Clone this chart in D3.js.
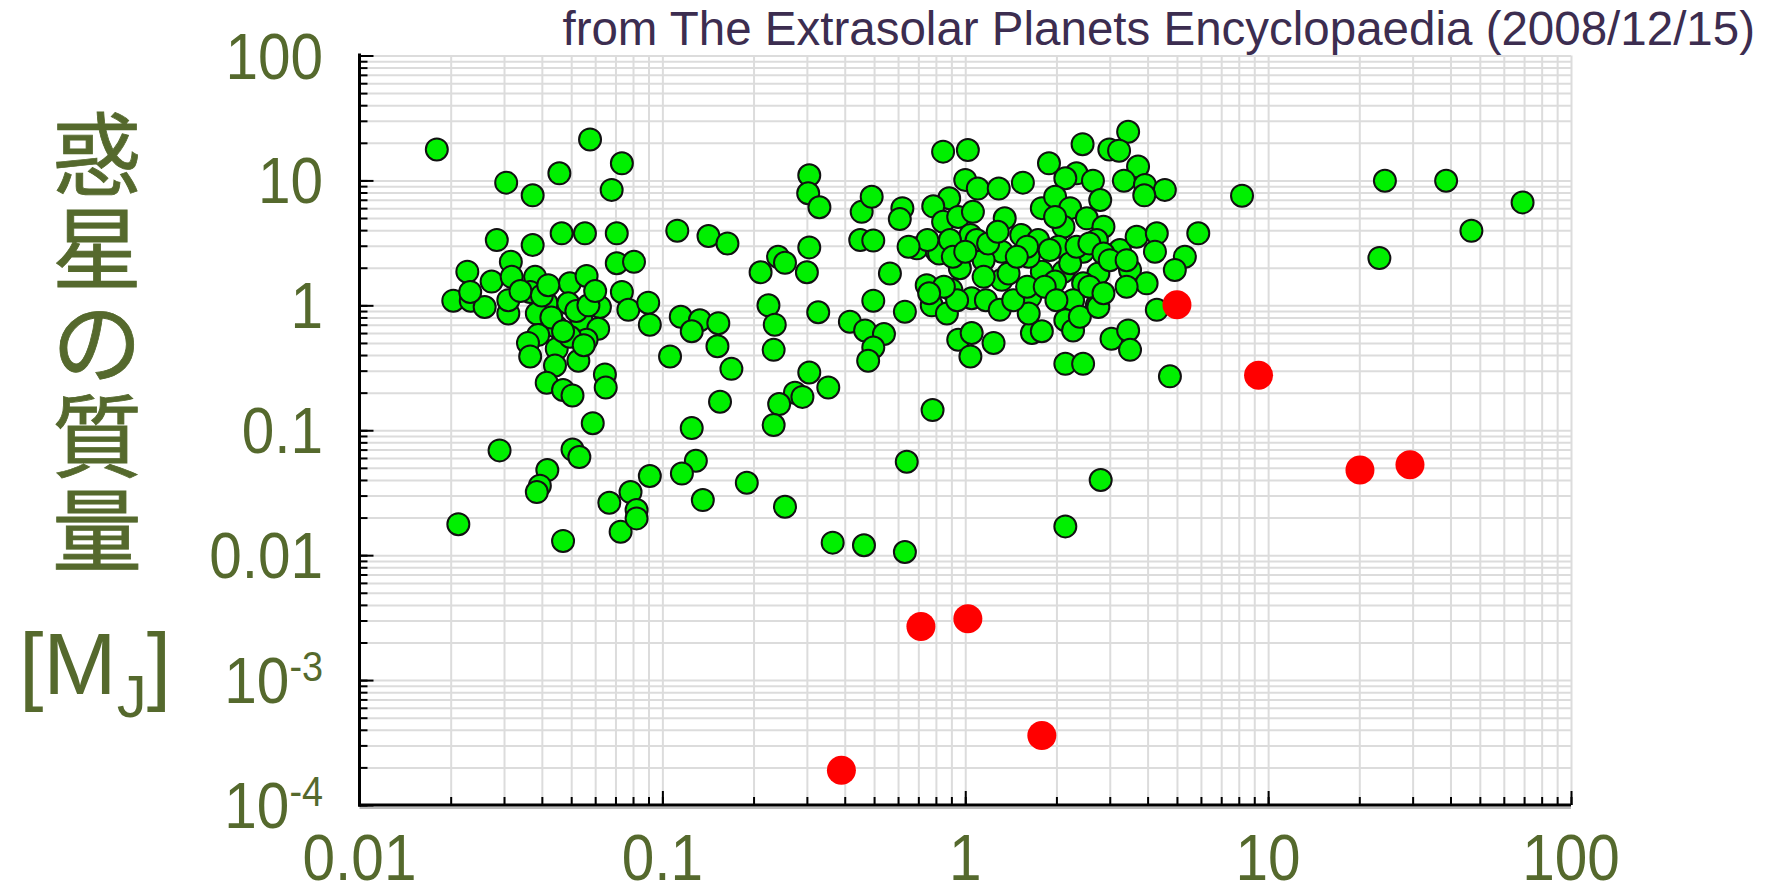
<!DOCTYPE html>
<html>
<head>
<meta charset="utf-8">
<script src="https://cdn.jsdelivr.net/npm/d3@7"></script>
<style>
  body { margin: 0; background: #fff; }
  svg { display: block; }
</style>
</head>
<body>
<div id="chart"></div>
<script>
// semi-major axis [AU] / planet mass [MJ]
var planetA = [
  0.018, 0.0577, 0.0735, 0.0457, 0.0305, 0.0373, 0.068,
  0.0284, 0.0373, 0.0465, 0.0555, 0.0707,
  0.0316, 0.0227, 0.0273, 0.0318, 0.038, 0.0495, 0.0562, 0.0707, 0.0806,
  0.0204, 0.0233, 0.0259, 0.0232, 0.031, 0.031, 0.0366, 0.0415, 0.0385, 0.0489,
  0.0541, 0.0622, 0.0614, 0.0448, 0.0389, 0.036, 0.0366, 0.0448, 0.0442, 0.0528, 0.0562, 0.0495,
  0.0735, 0.0772, 0.0898, 0.0909,
  0.0646, 0.065, 0.0415, 0.047, 0.0505, 0.0589,
  0.029, 0.0505, 0.0532, 0.0417, 0.0394, 0.0385,
  0.0212, 0.047, 0.0668, 0.0785, 0.0822, 0.0728, 0.0909, 0.0822,
  0.034, 0.043, 0.047, 0.055, 0.04, 0.052, 0.057, 0.042, 0.06,
  0.3055, 0.303, 0.33, 0.112, 0.142, 0.164, 0.211, 0.241, 0.254, 0.3055, 0.30,
  0.224, 0.235, 0.233, 0.327, 0.416, 0.467, 0.539, 0.497, 0.478,
  0.455, 0.491, 0.45, 0.497, 0.497,
  0.115, 0.133, 0.125, 0.153, 0.152, 0.106, 0.169, 0.155, 0.125,
  0.3055, 0.274, 0.243, 0.353, 0.233, 0.29,
  0.129, 0.116, 0.136, 0.19, 0.254, 0.641, 0.365, 0.463, 0.632,
  3.45, 2.44, 2.99, 3.22, 0.845, 1.02, 1.89, 3.72, 2.33, 2.14, 2.64, 3.34, 3.92, 4.56, 3.9,
  1.0, 1.10, 1.29, 1.55, 0.885, 0.784, 0.62, 0.608, 0.845, 0.948, 1.06, 1.35, 1.79, 1.98, 2.22, 2.52, 2.79, 2.86, 2.11, 1.98,
  0.692, 0.806, 1.04, 1.53, 1.74, 2.03, 2.45, 2.72, 3.24, 3.68, 4.29, 5.88, 5.31, 4.23, 4.92, 3.5, 3.97, 3.41, 2.75, 2.45,
  2.11, 1.79, 1.62, 1.32, 1.32, 1.15, 0.96, 0.82, 0.746, 0.90, 1.05, 1.64, 1.98, 2.27, 2.72,
  0.564, 0.632, 0.775, 0.87, 0.948, 1.05, 1.24, 1.04, 1.66, 1.79, 1.62, 2.14, 2.27, 2.39, 2.75, 3.04, 3.45, 3.5, 4.29, 2.14, 2.45, 4.74,
  1.09, 1.19, 1.39, 1.60, 1.9, 2.22, 2.33, 2.57, 2.86, 0.89, 0.94, 1.17, 1.30, 1.44, 1.6, 1.83, 2.0, 2.57, 2.86, 3.0,
  0.75, 0.65, 0.91, 1.0, 1.48, 1.28, 1.15, 0.85, 0.76, 3.41,
  0.78, 2.14, 2.8,
  8.2, 24.3, 23.3, 38.7, 46.9, 69.2
];
var planetM = [
  17.7, 21.3, 13.7, 11.4, 9.6, 7.6, 8.4,
  3.33, 3.04, 3.77, 3.77, 3.77,
  2.23, 1.86, 1.55, 1.69, 1.69, 1.5, 1.72, 2.17, 2.23,
  1.09, 1.09, 0.97, 1.28, 0.86, 1.1, 1.28, 1.04, 0.86, 1.04,
  0.76, 0.97, 0.65, 0.67, 0.58, 0.5, 0.39, 0.45, 0.33, 0.36, 0.53, 0.56,
  1.28, 0.92, 1.05, 0.7,
  0.28, 0.22, 0.24, 0.21, 0.19, 0.114,
  0.069, 0.07, 0.061, 0.048, 0.036, 0.032,
  0.0177, 0.013, 0.0263, 0.032, 0.023, 0.0154, 0.043, 0.0197,
  1.3, 0.8, 0.62, 0.48, 1.2, 0.9, 1.0, 1.45, 1.3,
  11.0, 7.9, 6.1, 3.96, 3.59, 3.13, 1.84, 2.45, 2.19, 2.91, 1.84,
  1.0, 0.70, 0.44, 0.88, 0.74, 0.63, 0.59, 0.46, 0.36,
  5.6, 7.4, 3.33, 3.3, 1.09,
  0.81, 0.76, 0.62, 0.72, 0.47, 0.39, 0.31, 0.169, 0.104,
  0.29, 0.20, 0.162, 0.22, 0.11, 0.185,
  0.057, 0.045, 0.0276, 0.038, 0.0244, 0.056, 0.0126, 0.012, 0.0106,
  24.5, 19.5, 17.7, 17.3, 17, 17.5, 13.7, 12.9, 11.4, 10.4, 9.95, 9.95, 9.2, 8.4, 7.6,
  10.1, 8.6, 8.6, 9.6, 7.2, 6.2, 6.0, 4.9, 4.67, 5.1, 5.6, 4.97, 6.0, 7.4, 6.0, 4.97, 6.97, 4.26, 4.26, 5.1,
  2.86, 2.69, 3.65, 3.65, 3.33, 2.95, 2.69, 3.33, 2.77, 3.54, 3.77, 3.77, 2.45, 2.69, 1.92, 1.92, 1.5, 1.41, 1.8, 1.5,
  1.86, 1.86, 2.45, 2.69, 1.6, 2.3, 1.98, 2.6, 1.45, 1.33, 1.14, 1.17, 1.55, 1.1, 1.0,
  1.8, 0.89, 1.0, 0.86, 0.53, 0.60, 0.50, 0.39, 0.6, 0.62, 0.86, 0.76, 0.63, 0.81, 0.97, 0.54, 0.63, 0.44, 0.92, 0.34, 0.34, 0.27,
  3.33, 3.13, 1.8, 2.95, 2.77, 2.17, 2.95, 3.13, 2.6, 3.33, 1.1, 1.1, 0.92, 1.1, 1.41, 1.41, 1.1, 1.41, 1.25, 2.3,
  3.33, 2.95, 2.45, 2.69, 2.45, 3.88, 1.69, 1.41, 1.25, 2.3,
  0.145, 0.017, 0.040,
  7.55, 9.93, 2.39, 9.93, 3.95, 6.67
];

// solar system planets (red)
var solarNames = ["Mercury", "Venus", "Earth", "Mars", "Jupiter", "Saturn", "Uranus", "Neptune"];
var solarA = [0.39, 0.714, 1.02, 1.79, 5.0, 9.3, 20.1, 29.4];
var solarM = [0.00019, 0.00268, 0.0031, 0.00036, 1.01, 0.275, 0.048, 0.053];

var xTickValues = [0.01, 0.1, 1, 10, 100];
var xTickLabels = ["0.01", "0.1", "1", "10", "100"];
var yTickValues = [1e-4, 1e-3, 0.01, 0.1, 1, 10, 100];
var yTickLabels = ["10^-4", "10^-3", "0.01", "0.1", "1", "10", "100"];
var yTitleChars = ["惑", "星", "の", "質", "量"];
var sourceText = "from The Extrasolar Planets Encyclopaedia (2008/12/15)";

var W = 1783, H = 885;
var plot = { left: 359.5, right: 1571, top: 55.5, bottom: 805 };
var olive = "#55692d";
var latin = "'Liberation Sans', Arial, sans-serif";

var svg = d3.select("#chart").append("svg")
  .attr("width", W)
  .attr("height", H);

var x = d3.scaleLog().domain([0.01, 100]).range([plot.left, plot.right]);
var y = d3.scaleLog().domain([1e-4, 100]).range([plot.bottom, plot.top]);

// 1..9 steps in every decade
function decadeSteps(lo, hi) {
  var out = [];
  for (var d = lo; d < hi * 0.99; d *= 10) {
    for (var k = 1; k < 10; k++) out.push(+(d * k).toPrecision(3));
  }
  out.push(hi);
  return out;
}
var xSteps = decadeSteps(0.01, 100),
  ySteps = decadeSteps(1e-4, 100);

// grid
svg.append("g")
  .attr("class", "grid")
  .attr("transform", "translate(0," + plot.bottom + ")")
  .call(d3.axisBottom(x).tickValues(xSteps).tickSize(-(plot.bottom - plot.top)).tickFormat(""));
svg.append("g")
  .attr("class", "grid")
  .attr("transform", "translate(" + plot.left + ",0)")
  .call(d3.axisLeft(y).tickValues(ySteps).tickSize(-(plot.right - plot.left)).tickFormat(""));
svg.selectAll(".grid .domain").remove();
svg.selectAll(".grid line").attr("stroke", "#dcdcdc").attr("stroke-width", 2);

// tick marks, pointing into the plot
function drawTicks(axis, tr, values, len) {
  var g = svg.append("g")
    .attr("class", "ticks")
    .attr("transform", tr)
    .call(axis.tickValues(values).tickSize(-len).tickSizeOuter(0).tickFormat(""));
  g.select(".domain").remove();
  g.selectAll("line").attr("stroke", "#000").attr("stroke-width", 2);
}
drawTicks(d3.axisLeft(y), "translate(" + plot.left + ",0)", ySteps, 8);
drawTicks(d3.axisLeft(y), "translate(" + plot.left + ",0)", yTickValues, 14);
drawTicks(d3.axisBottom(x), "translate(0," + plot.bottom + ")", xSteps, 8);
drawTicks(d3.axisBottom(x), "translate(0," + plot.bottom + ")", xTickValues, 14);

// axis lines
svg.append("line")
  .attr("x1", plot.left).attr("x2", plot.right)
  .attr("y1", plot.bottom + 3).attr("y2", plot.bottom + 3)
  .attr("stroke", "#bbb").attr("stroke-width", 2);
svg.append("line")
  .attr("x1", plot.left).attr("x2", plot.left)
  .attr("y1", plot.top - 2).attr("y2", plot.bottom + 1.5)
  .attr("stroke", "#000").attr("stroke-width", 3);
svg.append("line")
  .attr("x1", plot.left - 1.5).attr("x2", plot.right)
  .attr("y1", plot.bottom).attr("y2", plot.bottom)
  .attr("stroke", "#000").attr("stroke-width", 3);

// points
var planets = planetA.map(function(a, i) { return { a: a, m: planetM[i] }; });
var solar = solarA.map(function(a, i) { return { name: solarNames[i], a: a, m: solarM[i] }; });

svg.append("g").selectAll("circle")
  .data(planets)
  .join("circle")
  .attr("cx", function(d) { return x(d.a); })
  .attr("cy", function(d) { return y(d.m); })
  .attr("r", 11)
  .attr("fill", "#00f000")
  .attr("stroke", "#111")
  .attr("stroke-width", 2);

svg.append("g").selectAll("circle")
  .data(solar)
  .join("circle")
  .attr("cx", function(d) { return x(d.a); })
  .attr("cy", function(d) { return y(d.m); })
  .attr("r", 14.5)
  .attr("fill", "#ff0000");

// tick labels (slightly condensed, like the original)
var yLab = svg.append("g").selectAll("g")
  .data(yTickValues)
  .join("g")
  .attr("transform", function(d) { return "translate(323," + (y(d) + 23) + ") scale(0.9,1)"; })
  .append("text")
  .attr("text-anchor", "end")
  .attr("font-family", latin)
  .attr("font-size", 65)
  .attr("fill", olive);
yLab.each(function(d, i) {
  var parts = yTickLabels[i].split("^"), t = d3.select(this);
  t.append("tspan").text(parts[0]);
  if (parts[1]) {
    t.append("tspan").attr("font-size", 42).attr("dy", -22).text(parts[1]);
  }
});

svg.append("g").selectAll("g")
  .data(xTickValues)
  .join("g")
  .attr("transform", function(d) { return "translate(" + x(d) + ",880) scale(0.9,1)"; })
  .append("text")
  .attr("text-anchor", "middle")
  .attr("font-family", latin)
  .attr("font-size", 65)
  .attr("fill", olive)
  .text(function(d, i) { return xTickLabels[i]; });

// y title, one character per line
svg.append("g").selectAll("text")
  .data(yTitleChars)
  .join("text")
  .attr("x", 97)
  .attr("y", function(d, i) { return 188 + i * 94; })
  .attr("text-anchor", "middle")
  .attr("font-family", "'Noto Sans CJK JP', sans-serif")
  .attr("font-size", 90)
  .attr("fill", olive)
  .attr("stroke", olive)
  .attr("stroke-width", 0.8)
  .text(function(d) { return d; });

var unit = svg.append("text")
  .attr("x", 95)
  .attr("y", 694)
  .attr("text-anchor", "middle")
  .attr("font-family", latin)
  .attr("font-size", 88)
  .attr("fill", olive);
unit.append("tspan").text("[M");
unit.append("tspan").attr("font-size", 60).attr("dy", 23).text("J");
unit.append("tspan").attr("dy", -23).text("]");

// source note
svg.append("text")
  .attr("x", 1755)
  .attr("y", 45)
  .attr("text-anchor", "end")
  .attr("font-family", latin)
  .attr("font-size", 47.5)
  .attr("fill", "#3c2d50")
  .text(sourceText);
</script>
</body>
</html>
